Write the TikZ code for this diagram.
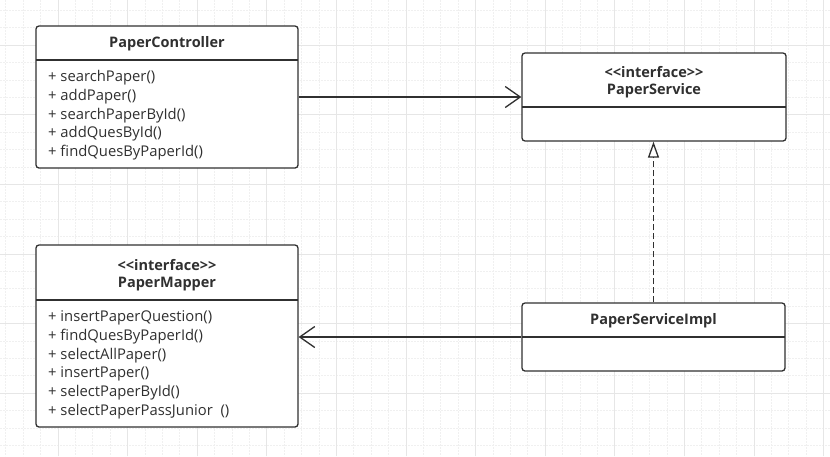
\documentclass[tikz,border=0pt]{standalone}
\usepackage{fontspec}
\setmainfont{Open Sans}
\usetikzlibrary{arrows.meta}
\definecolor{umlline}{HTML}{303030}
\definecolor{gridmajor}{HTML}{E6E6E6}
\definecolor{gridminor}{HTML}{F0F0F0}
\tikzset{
  classbox/.style={draw=umlline, line width=1.3pt, rounded corners=3pt, fill=white, inner sep=0pt},
  divider/.style={draw=umlline, line width=1.3pt},
  titletext/.style={font=\fontsize{14.5}{16}\selectfont\bfseries, text=umlline, inner sep=0pt},
  methodtext/.style={anchor=west, font=\fontsize{14.8}{16}\selectfont, text=umlline, inner sep=0pt},
  assoc/.style={draw=umlline, line width=1.3pt, -{Straight Barb[length=15pt,width=21pt]}},
  realize/.style={draw=umlline, line width=1.3pt, dash pattern=on 6pt off 3pt,
    -{Triangle[open,length=16pt,width=11pt,line width=1.3pt]}},
  minorgrid/.style={draw=gridminor, line width=0.8pt, dash pattern=on 2pt off 1pt},
  majorgrid/.style={draw=gridmajor, line width=1pt}
}
\begin{document}
\begin{tikzpicture}[x=1pt,y=-1pt]
\useasboundingbox (0,0) rectangle (830,456);
% background grid
\fill[white] (0,0) rectangle (830,456);
\foreach \i in {0,...,47} \draw[minorgrid] ({5.8+17.4*\i},0) -- ++(0,456);
\foreach \i in {0,...,25} \draw[minorgrid] (0,{10.4+17.4*\i}) -- ++(830,0);
\foreach \i in {0,...,11} \draw[majorgrid] ({58+69.6*\i},0) -- ++(0,456);
\foreach \i in {0,...,5} \draw[majorgrid] (0,{45.2+69.6*\i}) -- ++(830,0);

% classes
\node[classbox, minimum width=262, minimum height=142] (ctrl) at (167,97) {};
\draw[divider] (36,60) -- (298,60);
\node[titletext] (ctrltitle) at (167,44) {PaperController};
\foreach \m [count=\i] in {searchPaper(), addPaper(), searchPaperById(), addQuesById(), findQuesByPaperId()}
  \node[methodtext] (ctrlm\i) at (48,{59.3+18.7*\i}) {+ \m};

\node[classbox, minimum width=264, minimum height=88] (svc) at (654,97) {};
\draw[divider] (522,107) -- (786,107);
\node[titletext] (svcstereo) at (654,72) {{<}{<}interface{>}{>}};
\node[titletext] (svctitle) at (654,91) {PaperService};

\node[classbox, minimum width=262, minimum height=182] (mapper) at (167,336) {};
\draw[divider] (36,300) -- (298,300);
\node[titletext] (mapperstereo) at (167,265) {{<}{<}interface{>}{>}};
\node[titletext] (mappertitle) at (167,284) {PaperMapper};
\foreach \m [count=\i] in {insertPaperQuestion(), findQuesByPaperId(), selectAllPaper(), insertPaper(), selectPaperById(), selectPaperPassJunior\ \ ()}
  \node[methodtext] (mapperm\i) at (48,{299.3+18.7*\i}) {+ \m};

\node[classbox, minimum width=263, minimum height=68] (impl) at (653.5,337) {};
\draw[divider] (522,337) -- (785,337);
\node[titletext] (impltitle) at (653.5,321) {PaperServiceImpl};

% relations
\draw[assoc] (ctrl.east) -- (svc.west);
\draw[assoc] (impl.west) -- (impl.west -| mapper.east);
\draw[realize] (impl.north) -- (impl.north |- svc.south);
\end{tikzpicture}
\end{document}
